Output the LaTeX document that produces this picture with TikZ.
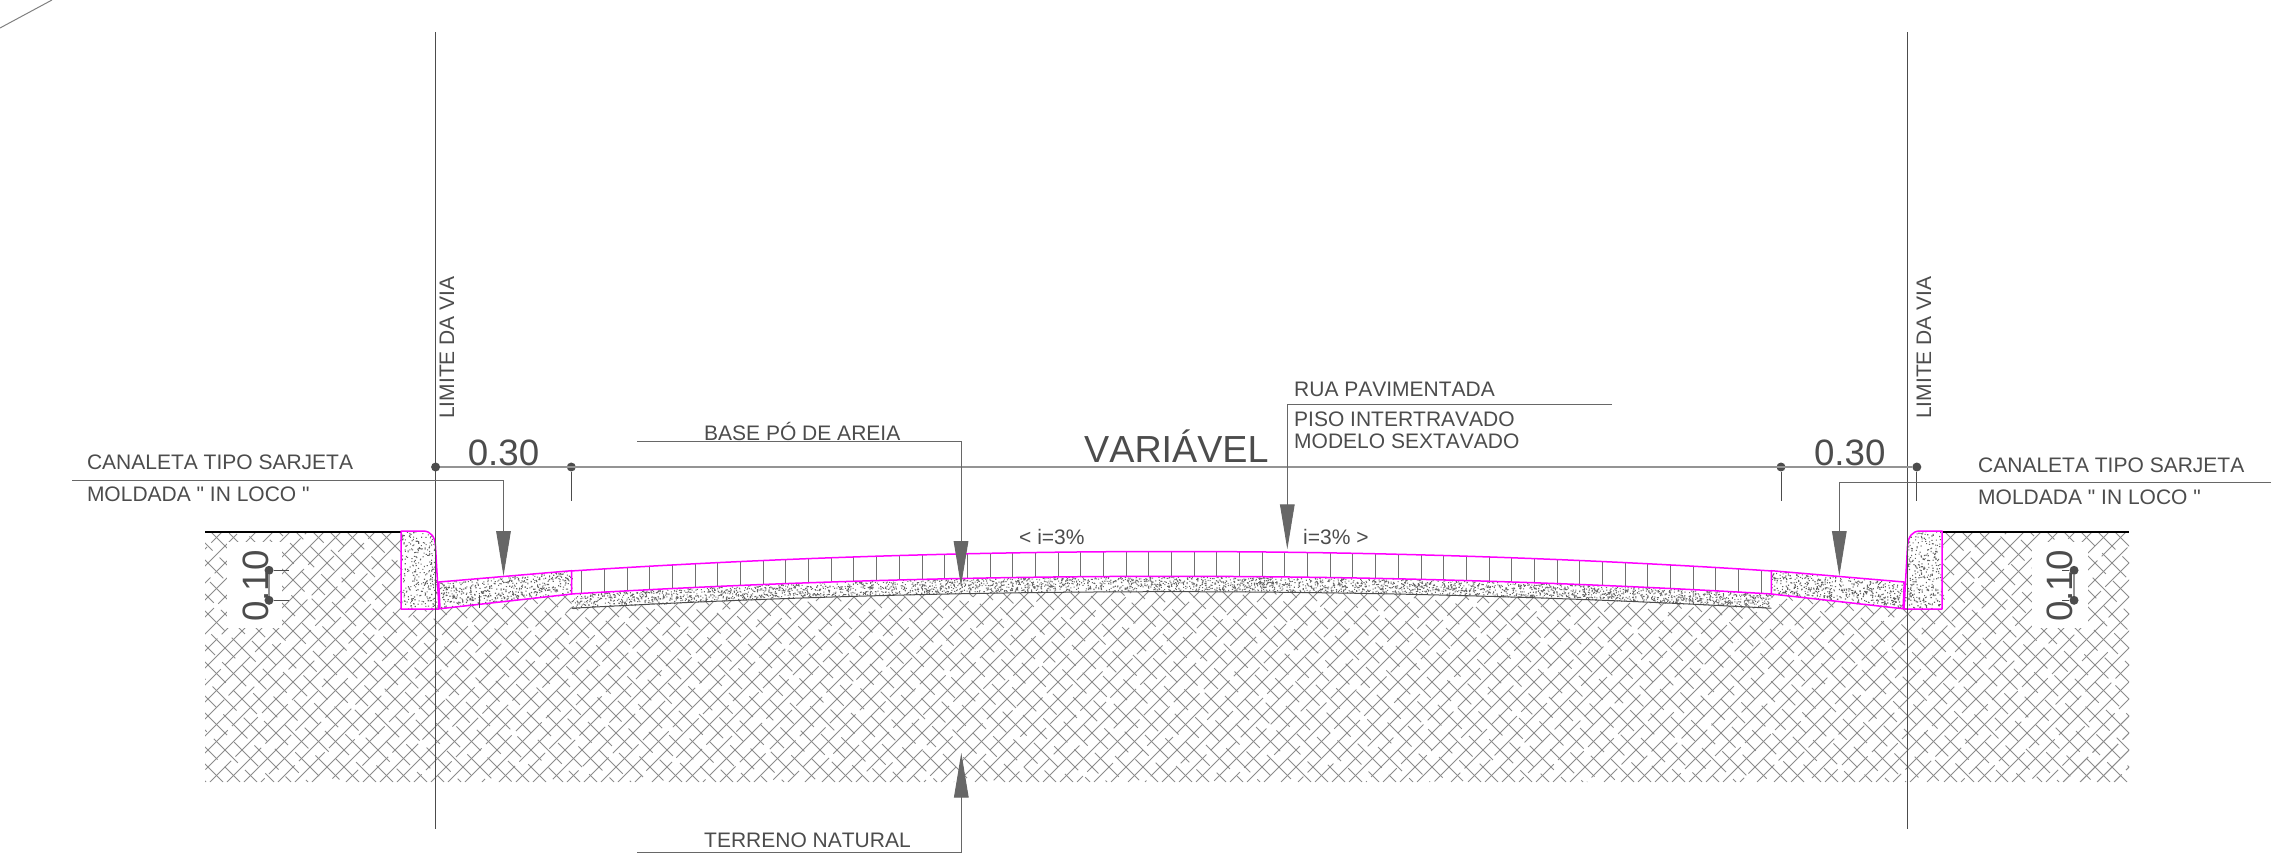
\documentclass[tikz,border=0pt]{standalone}
\usepackage{fontspec}
\setmainfont[Kerning=Off,Ligatures=TeXOff]{Liberation Sans}
\usetikzlibrary{arrows.meta}
\definecolor{ink}{gray}{0.30}
\definecolor{hatchgray}{gray}{0.55}
\definecolor{cadmag}{RGB}{255,0,255}
\newcommand{\txtsize}[1]{\fontsize{#1}{#1}\selectfont}
% y of the paver top, paver bottom and base bottom as a function of x
\newcommand{\ytop}[1]{(551.5+0.54*(((#1)-1171.5)/100)^2)}
\newcommand{\ybot}[1]{(576.3+0.49*(((#1)-1171.5)/100)^2)}
\newcommand{\ybase}[1]{(591.7+0.46*(((#1)-1171.5)/100)^2)}
% random stipple in a slanted strip: x0,x1,ytop0,ytop1,ybot0,ybot1,count
\newcommand{\stipplestrip}[7]{%
  \fill[ink!88] \foreach \n in {1,...,#7}{
    \pgfextra{\pgfmathsetmacro{\tt}{rnd}\pgfmathsetmacro{\uu}{rnd}
      \pgfmathsetmacro{\sx}{#1+(#2-#1)*\tt}
      \pgfmathsetmacro{\sy}{#3+(#4-#3)*\tt+((#5-#3)+((#6-#4)-(#5-#3))*\tt)*\uu}}
    (\sx,\sy) rectangle ++(1.1,1.1)};}
\tikzset{
  x=1pt,y=-1pt,
  label/.style={text=ink,inner sep=0pt,anchor=base west,font=\txtsize{21}},
  biglabel/.style={text=ink,inner sep=0pt,anchor=base west,font=\txtsize{36.7}},
  leader/.style={draw=ink!85,line width=1pt},
  arrowleader/.style={leader,-{Triangle[length=45pt,width=14.6pt]}},
  dimline/.style={draw=black!42,line width=1.8pt},
  dimtick/.style={draw=ink,line width=1pt},
  limitline/.style={draw=ink,line width=1.1pt},
  dimdot/.style={circle,fill=ink,inner sep=0pt,minimum size=9pt},
  surface/.style={draw=cadmag,line width=1.5pt,line join=round},
  hatchne/.style={draw=hatchgray,line width=1pt},
  hatchnw/.style={draw=hatchgray,line width=1pt},
}
\begin{document}
\begin{tikzpicture}
\useasboundingbox (0,0) rectangle (2293,857);
\pgfmathsetseed{4711}
% ---- earth hatch ----
\begin{scope}
\clip (205,532) -- (401,532) -- (401,609) -- (439,609) -- (571.7,594) -- (571.7,608.3)
  -- plot[domain=571.7:1771.4,samples=41] (\x,{\ybase{\x}})
  -- (1771.4,594) -- (1904,609) -- (1942,609) -- (1942,532) -- (2129,532) -- (2129,782) -- (205,782) -- cycle;
\foreach \k in {0,...,129}{
  \pgfmathsetmacro{\c}{737+17*\k}
  \pgfmathsetmacro{\ph}{mod(\k*61.6,80)}
  \draw[hatchne,dash pattern=on 74pt off 6pt,dash phase=\ph pt] ({\c-782},782) -- ({\c-532},532);
}
\foreach \k in {0,...,129}{
  \pgfmathsetmacro{\d}{-1600+17*\k}
  \pgfmathsetmacro{\ph}{mod(\k*4.7,44)}
  \draw[hatchnw,dash pattern=on 34pt off 10pt,dash phase=\ph pt] ({532-\d},532) -- ({782-\d},782);
}
\end{scope}
\fill[white] (227,542) rectangle (282,628);
\fill[white] (2032,542) rectangle (2087.5,628);
% ---- ground line ----
\draw[black,line width=1.2pt] (205,532) -- (401,532);
\draw[black,line width=1.2pt] (1942,532) -- (2129,532);
% ---- stipple ----
\begin{scope}
\clip (401,531) -- (423,531) .. controls (431,531) and (435,537) .. (435.5,546) -- (439,609) -- (401,609) -- cycle;
\stipplestrip{401}{439}{531}{531}{609}{609}{330}
\end{scope}
\begin{scope}
\clip (1942,531) -- (1920,531) .. controls (1912,531) and (1908,537) .. (1907.5,546) -- (1904,609) -- (1942,609) -- cycle;
\stipplestrip{1904}{1942}{531}{531}{609}{609}{330}
\end{scope}
\stipplestrip{439}{571.7}{582}{570.7}{608.7}{594}{520}
\stipplestrip{1771.4}{1904}{570.7}{582}{594}{608.7}{520}
\fill[ink!85] \foreach \n in {1,...,3800}{
  \pgfextra{\pgfmathsetmacro{\sx}{571.7+1199.7*rnd}
    \pgfmathsetmacro{\sy}{\ybot{\sx}+14.6*rnd}}
  (\sx,\sy) rectangle ++(1.05,1.05)};
% ---- pavers ----
\foreach \k in {-26,...,26}{
  \pgfmathsetmacro{\px}{1171.5+22.68*\k}
  \pgfmathsetmacro{\pa}{\ytop{\px}}
  \pgfmathsetmacro{\pb}{\ybot{\px}}
  \draw[draw=ink!80,line width=1pt] (\px,\pa) -- (\px,\pb);
}
\draw[ink,line width=1pt] plot[domain=571.7:1771.4,samples=41] (\x,{\ybase{\x}});
\draw[surface] plot[domain=571.7:1771.4,samples=41] (\x,{\ytop{\x}});
\draw[surface] plot[domain=571.7:1771.4,samples=41] (\x,{\ybot{\x}});
\draw[surface] (401,531) -- (423,531) .. controls (431,531) and (435,537) .. (435.5,546) -- (439,609) -- (401,609) -- cycle;
\draw[surface] (1942,531) -- (1920,531) .. controls (1912,531) and (1908,537) .. (1907.5,546) -- (1904,609) -- (1942,609) -- cycle;
\draw[surface] (438.7,582) -- (571.7,570.7) -- (571.7,594) -- (440,608.7) -- cycle;
\draw[surface] (1904.3,582) -- (1771.4,570.7) -- (1771.4,594) -- (1903,608.7) -- cycle;
\draw[dimtick] (479,595) -- (479,608);
% ---- limit lines ----
\coordinate (limLtop) at (435.6,32);
\coordinate (limLbot) at (435.6,829);
\coordinate (limRtop) at (1907.4,32);
\coordinate (limRbot) at (1907.4,829);
\draw[limitline] (limLtop) -- (limLbot);
\draw[limitline] (limRtop) -- (limRbot);
\node[label,rotate=90] (limLtxt) at (454,419) {LIMITE DA VIA};
\node[label,rotate=90] (limRtxt) at (1931,419) {LIMITE DA VIA};
% ---- horizontal dimension ----
\node[dimdot] (d1) at (435.6,467) {};
\node[dimdot] (d2) at (571.3,467) {};
\node[dimdot] (d3) at (1781,467) {};
\node[dimdot] (d4) at (1916.8,467) {};
\coordinate (t2) at (571.3,501);
\coordinate (t3) at (1781,501);
\coordinate (t4) at (1916.8,501);
\draw[dimline] (d1) -- (d4);
\draw[dimtick] (d2) -- (t2);
\draw[dimtick] (d3) -- (t3);
\draw[dimtick] (d4) -- (t4);
\node[biglabel] (w1) at (467.6,465) {0.30};
\node[biglabel] (w2) at (1813.8,465) {0.30};
\node[biglabel,font=\txtsize{37.7}] (w3) at (1084,462.7) {VARIÁVEL};
% ---- 0.10 dimensions ----
\node[biglabel,rotate=90] (h1) at (268.6,622) {0.10};
\node[biglabel,rotate=90] (h2) at (2072.5,622) {0.10};
\node[dimdot] (e1) at (269,570.3) {};
\node[dimdot] (e2) at (269,600.3) {};
\node[dimdot] (f1) at (2074,570.3) {};
\node[dimdot] (f2) at (2074,600.3) {};
\coordinate (e1t) at (288.5,570.3);
\coordinate (e2t) at (288.5,600.3);
\coordinate (f1t) at (2062,570.3);
\coordinate (f2t) at (2062,600.3);
\draw[dimline,line width=1.2pt] (e1) -- (e2);
\draw[dimline,line width=1.2pt] (f1) -- (f2);
\draw[dimtick] (e1) -- (e1t);
\draw[dimtick] (e2) -- (e2t);
\draw[dimtick] (f1) -- (f1t);
\draw[dimtick] (f2) -- (f2t);
% ---- leaders ----
\coordinate (lA0) at (72,480.3);
\coordinate (lA1) at (503.5,480.3);
\coordinate (lA2) at (503.5,576);
\draw[arrowleader] (lA0) -- (lA1) -- (lA2);
\coordinate (lB0) at (2271,482.7);
\coordinate (lB1) at (1839.3,482.7);
\coordinate (lB2) at (1839.3,576);
\draw[arrowleader] (lB0) -- (lB1) -- (lB2);
\coordinate (lC0) at (637,441.7);
\coordinate (lC1) at (961,441.7);
\coordinate (lC2) at (961,586);
\draw[arrowleader] (lC0) -- (lC1) -- (lC2);
\coordinate (lD0) at (1612,404.3);
\coordinate (lD1) at (1287.3,404.3);
\coordinate (lD2) at (1287.3,549.3);
\draw[arrowleader] (lD0) -- (lD1) -- (lD2);
\coordinate (lE0) at (637.3,852.7);
\coordinate (lE1) at (961.3,852.7);
\coordinate (lE2) at (961.3,752.7);
\draw[arrowleader] (lE0) -- (lE1) -- (lE2);
% ---- labels ----
\node[label] (a1) at (86.8,469.3) {CANALETA TIPO SARJETA};
\node[label] (a2) at (86.8,501.7) {MOLDADA " IN LOCO "};
\node[label] (b1) at (1978,472.3) {CANALETA TIPO SARJETA};
\node[label] (b2) at (1978,504.3) {MOLDADA " IN LOCO "};
\node[label] (c1) at (704,440.7) {BASE PÓ DE AREIA};
\node[label] (d5) at (1294,396.7) {RUA PAVIMENTADA};
\node[label] (d6) at (1294,426) {PISO INTERTRAVADO};
\node[label] (d7) at (1294,448.3) {MODELO SEXTAVADO};
\node[label] (s1) at (1019,544) {< i=3\%};
\node[label] (s2) at (1303,544) {i=3\% >};
\node[label] (g1) at (704,847.7) {TERRENO NATURAL};
% ---- stray corner line ----
\coordinate (cornerA) at (0,28);
\coordinate (cornerB) at (52,0);
\draw[draw=black!50,line width=1pt] (cornerA) -- (cornerB);
\end{tikzpicture}
\end{document}
